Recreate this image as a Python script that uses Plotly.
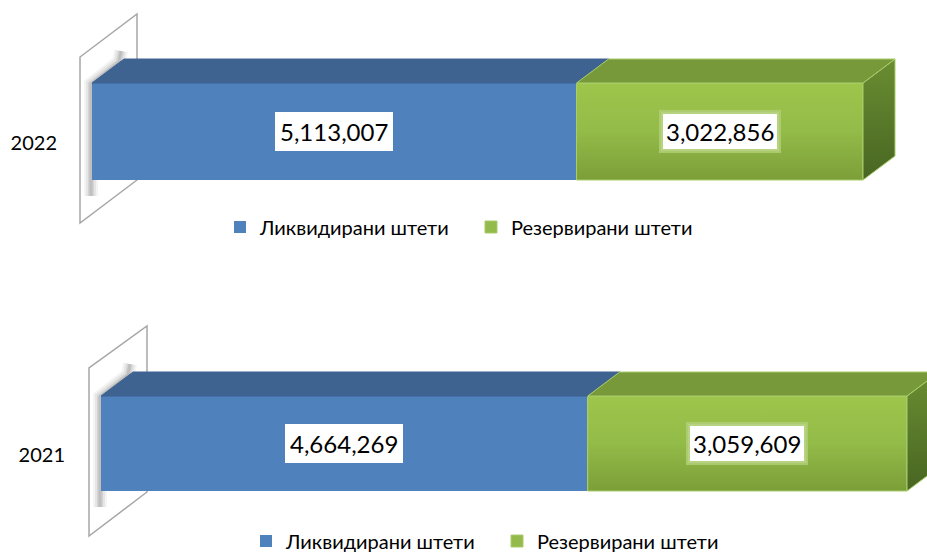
import plotly.graph_objects as go

# ---------------- data ----------------
years = ["2022", "2021"]
paid = [5113007, 4664269]          # Ликвидирани штети
reserved = [3022856, 3059609]      # Резервирани штети
series_names = ["Ликвидирани штети", "Резервирани штети"]

W, H = 927, 552
FONT = "Lato, 'Open Sans', sans-serif"
BLUE, BLUE_TOP = "#4F81BD", "#3E6391"
GREEN, GREEN_TOP, GREEN_EDGE = "#94BA4C", "#77993A", "#A9CD6A"

# panel geometry (pixels)
panels = [
    dict(x0=92, xend=863, yc=131.5, bh=97, xl=72, xr=910, yt=6, yb=232,
         wall=[(80, 223), (80, 57), (137, 14), (137, 180)], leg_y=227, leg_x=220),
    dict(x0=101, xend=907, yc=443.5, bh=95, xl=80, xr=927, yt=318, yb=542,
         wall=[(89, 536), (89, 368), (147, 326), (147, 492)], leg_y=541, leg_x=246),
]
DX, DY = 32, 24  # 3D depth offset in pixels

fig = go.Figure()
shapes, annotations = [], []
layout_axes = {}

for i, p in enumerate(panels):
    total = paid[i] + reserved[i]
    sx = (p["xend"] - p["x0"]) / total          # px per unit
    bh = p["bh"]
    xd = lambda px, p=p, sx=sx: (px - p["x0"]) / sx
    yd = lambda py, p=p, bh=bh: (p["yc"] - py) / bh
    dxd = DX / sx
    dyd = DY / bh
    xa = "x" if i == 0 else "x2"
    ya = "y" if i == 0 else "y2"
    leg = "legend" if i == 0 else "legend2"

    # front faces (stacked bars)
    fig.add_trace(go.Bar(y=[0], x=[paid[i]], orientation="h", width=1,
                         marker=dict(color=BLUE, line=dict(width=0)),
                         name=series_names[0], xaxis=xa, yaxis=ya, legend=leg,
                         hoverinfo="x+name"))
    fig.add_trace(go.Bar(y=[0], x=[reserved[i]], orientation="h", width=1,
                         marker=dict(color=GREEN, line=dict(width=1, color=GREEN_EDGE)),
                         name=series_names[1], xaxis=xa, yaxis=ya, legend=leg,
                         hoverinfo="x+name"))

    # gradient overlay on green front face
    gx0, gx1 = paid[i], paid[i] + reserved[i]
    fig.add_trace(go.Scatter(x=[gx0, gx1, gx1, gx0, gx0], y=[0.5, 0.5, -0.5, -0.5, 0.5],
                             fill="toself", mode="lines",
                             line=dict(width=1, color=GREEN_EDGE),
                             fillgradient=dict(type="vertical",
                                               colorscale=[[0, "#7C9E38"], [0.5, "#93BB48"], [1, "#9EC64C"]]),
                             xaxis=xa, yaxis=ya, showlegend=False, hoverinfo="skip"))
    # side face (right end) with gradient
    fig.add_trace(go.Scatter(x=[gx1, gx1 + dxd, gx1 + dxd, gx1, gx1],
                             y=[0.5, 0.5 + dyd, -0.5 + dyd, -0.5, 0.5],
                             fill="toself", mode="lines",
                             line=dict(width=1, color=GREEN_EDGE),
                             fillgradient=dict(type="vertical",
                                               colorscale=[[0, "#486622"], [1, "#6A8D32"]]),
                             xaxis=xa, yaxis=ya, showlegend=False, hoverinfo="skip"))

    # wall
    wp = p["wall"]
    path = "M " + " L ".join(f"{xd(a)},{yd(b)}" for a, b in wp) + " Z"
    shapes.append(dict(type="path", path=path, xref=xa, yref=ya, layer="below",
                       line=dict(color="#A6A6A6", width=1.5), fillcolor="white"))
    # soft shadow of bar on wall
    top = p["yc"] - bh / 2
    bot = p["yc"] + bh / 2
    x0 = p["x0"]
    pts = [(x0 - 1, bot + 16), (x0 - 1, top + 1), (x0 + DX - 5, top - DY + 3), (x0 + DX - 3, top - DY - 8)]
    spath = "M " + " L ".join(f"{xd(a)},{yd(b)}" for a, b in pts)
    for w_, op in [(14, 0.05), (10, 0.07), (6, 0.09), (3, 0.12)]:
        shapes.append(dict(type="path", path=spath, xref=xa, yref=ya, layer="below",
                           line=dict(color=f"rgba(40,40,40,{op})", width=w_)))

    # top faces
    for (a, b, col) in [(0, paid[i], BLUE_TOP), (paid[i], paid[i] + reserved[i], GREEN_TOP)]:
        path = (f"M {a},0.5 L {b},0.5 L {b + dxd},{0.5 + dyd} L {a + dxd},{0.5 + dyd} Z")
        shapes.append(dict(type="path", path=path, xref=xa, yref=ya, layer="above",
                           fillcolor=col,
                           line=dict(color=GREEN_EDGE if col == GREEN_TOP else col, width=1)))

    # value labels
    annotations.append(dict(x=paid[i] / 2, y=0, xref=xa, yref=ya, text=f"{paid[i]:,}",
                            showarrow=False, bgcolor="white", bordercolor="white",
                            borderpad=4, borderwidth=1,
                            font=dict(family=FONT, size=24, color="black")))
    annotations.append(dict(x=paid[i] + reserved[i] / 2, y=0, xref=xa, yref=ya,
                            text=f"{reserved[i]:,}",
                            showarrow=False, bgcolor="white", bordercolor="rgba(175,205,115,0.9)",
                            borderpad=3, borderwidth=4,
                            font=dict(family=FONT, size=24, color="black")))

    # axes
    dom_x = [p["xl"] / W, min(p["xr"] / W, 1.0)]
    dom_y = [1 - p["yb"] / H, 1 - p["yt"] / H]
    xkey = "xaxis" if i == 0 else "xaxis2"
    ykey = "yaxis" if i == 0 else "yaxis2"
    layout_axes[xkey] = dict(domain=dom_x, range=[xd(p["xl"]), xd(p["xr"])],
                             visible=False, fixedrange=True, anchor=ya)
    layout_axes[ykey] = dict(domain=dom_y, range=[yd(p["yb"]), yd(p["yt"])],
                             tickvals=[yd(p["yc"] + 11)], ticktext=[years[i]],
                             showgrid=False, zeroline=False, showline=False, ticks="",
                             ticklabelstandoff=14,
                             tickfont=dict(family=FONT, size=20, color="black"),
                             fixedrange=True, anchor=xa)

    layout_axes[leg] = dict(orientation="h", x=p["leg_x"] / W, xanchor="left",
                            y=1 - p["leg_y"] / H, yanchor="middle",
                            font=dict(family=FONT, size=20, color="black"),
                            entrywidth=206, entrywidthmode="pixels",
                            bgcolor="rgba(0,0,0,0)", traceorder="normal",
                            itemclick=False, itemdoubleclick=False)

fig.update_layout(
    width=W, height=H,
    margin=dict(l=0, r=0, t=0, b=0, autoexpand=False),
    paper_bgcolor="white", plot_bgcolor="rgba(0,0,0,0)",
    barmode="stack", bargap=0,
    shapes=shapes, annotations=annotations,
    showlegend=True,
    font=dict(family=FONT),
    **layout_axes,
)

fig.write_html("out.html",
               config={"displayModeBar": False, "responsive": False},
               post_script="document.body.style.margin='0px';document.documentElement.style.overflow='hidden';")
